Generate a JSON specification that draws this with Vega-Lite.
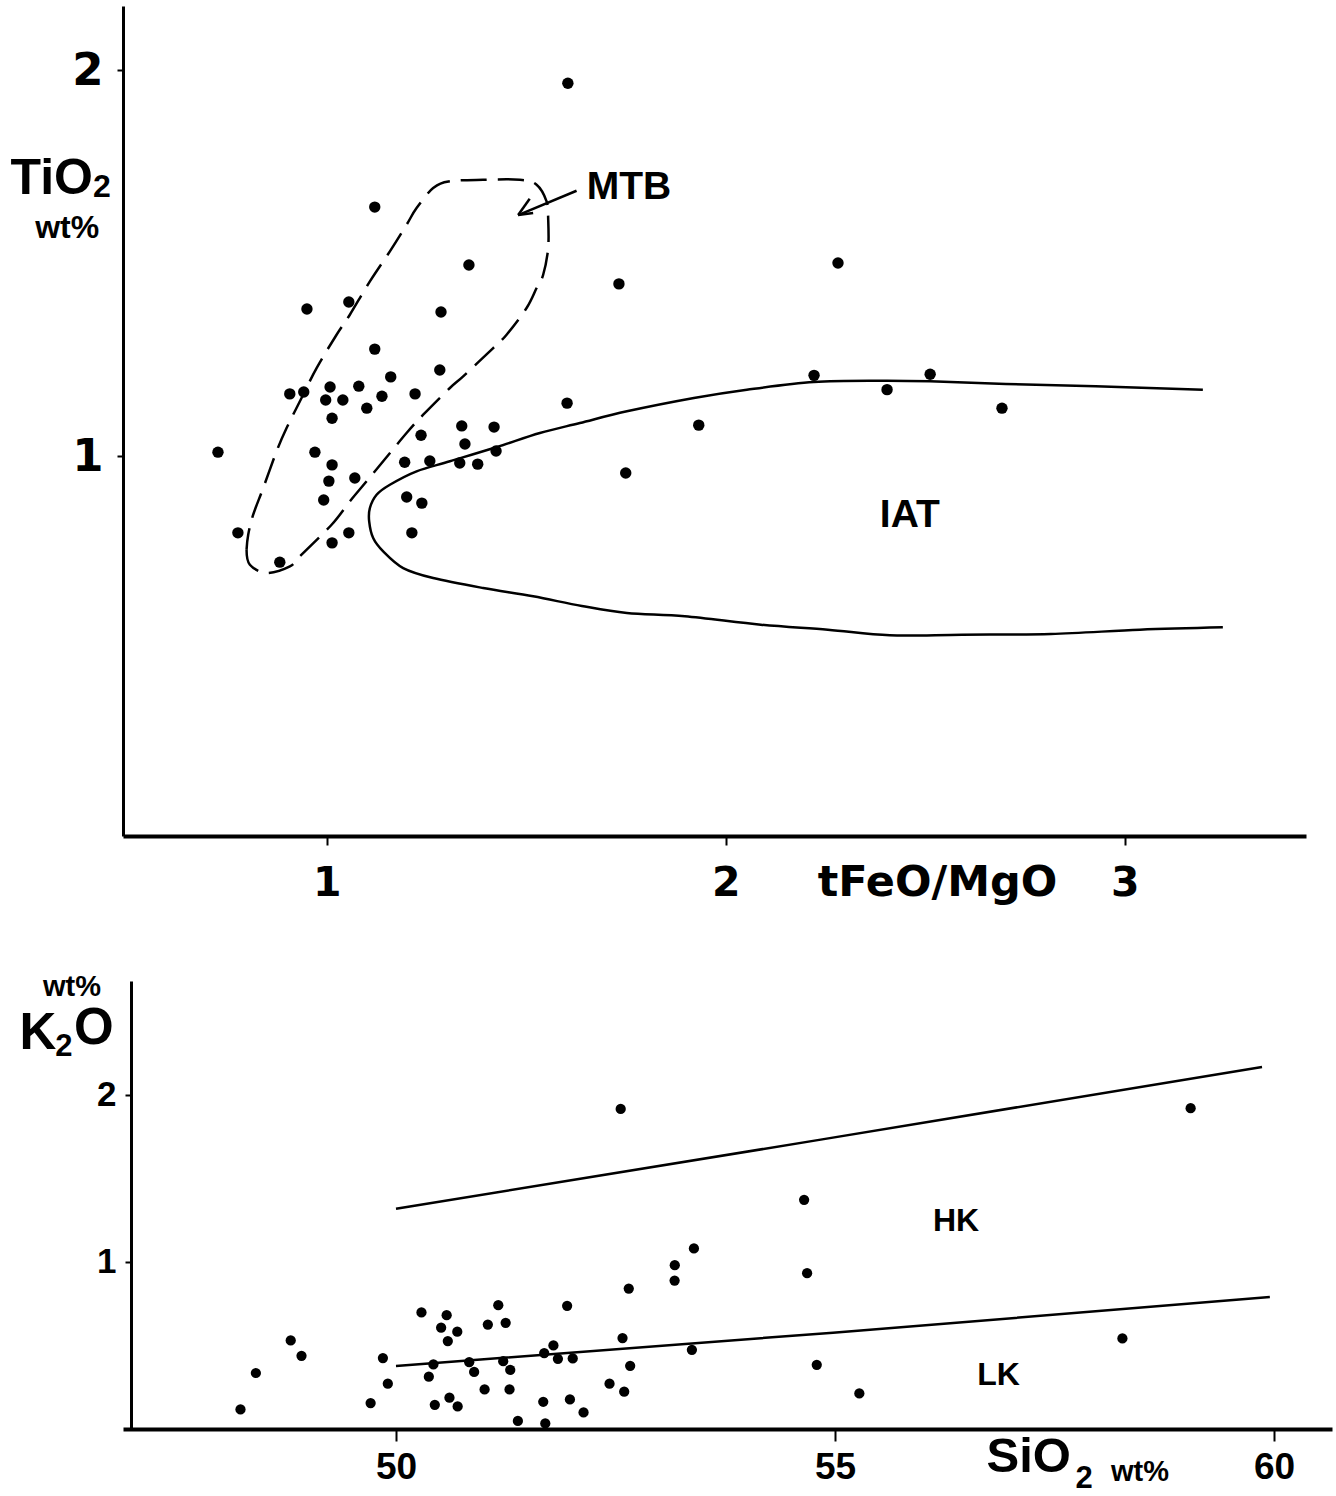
{
  "$schema": "https://vega.github.io/schema/vega-lite/v6.json",
  "background": "white",
  "padding": {"left": 10, "top": 6, "right": 5, "bottom": 5},
  "config": {"view": {"stroke": null}},
  "datasets": {
    "top_points": [
      {"x":1.120,"y":1.645},{"x":1.356,"y":1.495},{"x":0.950,"y":1.381},{"x":1.055,"y":1.399},{"x":1.286,"y":1.373},
      {"x":1.120,"y":1.277},{"x":1.160,"y":1.205},{"x":1.283,"y":1.223},{"x":0.907,"y":1.161},{"x":0.942,"y":1.166},
      {"x":1.008,"y":1.179},{"x":1.080,"y":1.181},{"x":0.997,"y":1.145},{"x":1.040,"y":1.145},{"x":1.138,"y":1.155},
      {"x":1.100,"y":1.124},{"x":1.221,"y":1.161},{"x":1.013,"y":1.098},{"x":1.602,"y":1.137},{"x":1.338,"y":1.078},
      {"x":1.419,"y":1.075},{"x":1.346,"y":1.031},{"x":1.424,"y":1.013},{"x":1.236,"y":1.054},{"x":0.727,"y":1.010},
      {"x":0.970,"y":1.010},{"x":1.013,"y":0.977},{"x":1.195,"y":0.984},{"x":1.258,"y":0.987},{"x":1.333,"y":0.982},
      {"x":1.378,"y":0.979},{"x":1.005,"y":0.935},{"x":1.070,"y":0.943},{"x":0.992,"y":0.886},{"x":1.200,"y":0.894},
      {"x":1.238,"y":0.878},{"x":0.777,"y":0.801},{"x":1.055,"y":0.801},{"x":1.013,"y":0.775},{"x":1.213,"y":0.801},
      {"x":0.882,"y":0.725},{"x":1.932,"y":1.080},{"x":1.749,"y":0.956},{"x":2.221,"y":1.209},{"x":1.604,"y":1.966},
      {"x":1.732,"y":1.446},{"x":2.281,"y":1.500},{"x":2.404,"y":1.172},{"x":2.512,"y":1.212},{"x":2.692,"y":1.124}
    ],
    "mtb": [
      {"i":0,"x":0.7987,"y":0.7573},{"i":1,"x":0.8070,"y":0.7184},{"i":2,"x":0.8489,"y":0.6969},{"i":3,"x":0.9073,"y":0.7142},
      {"i":4,"x":0.9323,"y":0.7401},{"i":5,"x":1.0118,"y":0.8220},{"i":6,"x":1.0576,"y":0.8826},{"i":7,"x":1.0995,"y":0.9345},
      {"i":8,"x":1.1411,"y":0.9863},{"i":9,"x":1.1997,"y":1.0596},{"i":10,"x":1.2414,"y":1.1070},{"i":11,"x":1.3083,"y":1.1762},
      {"i":12,"x":1.3416,"y":1.2065},{"i":13,"x":1.4168,"y":1.2798},{"i":14,"x":1.4504,"y":1.3143},{"i":15,"x":1.5005,"y":1.3834},
      {"i":16,"x":1.5256,"y":1.4352},{"i":17,"x":1.5421,"y":1.4697},{"i":18,"x":1.5546,"y":1.5389},{"i":19,"x":1.5546,"y":1.6166},
      {"i":20,"x":1.5506,"y":1.6598},{"i":21,"x":1.5256,"y":1.7029},{"i":22,"x":1.4837,"y":1.7158},{"i":23,"x":1.3917,"y":1.7158},
      {"i":24,"x":1.3083,"y":1.7117},{"i":25,"x":1.2664,"y":1.6943},{"i":26,"x":1.2248,"y":1.6425},{"i":27,"x":1.1997,"y":1.5992},
      {"i":28,"x":1.1579,"y":1.5303},{"i":29,"x":1.1078,"y":1.4526},{"i":30,"x":1.0576,"y":1.3661},{"i":31,"x":1.0243,"y":1.3143},
      {"i":32,"x":0.9742,"y":1.2280},{"i":33,"x":0.9406,"y":1.1588},{"i":34,"x":0.8990,"y":1.0725},{"i":35,"x":0.8739,"y":1.0122},
      {"i":36,"x":0.8404,"y":0.9171},{"i":37,"x":0.8153,"y":0.8479},{"i":38,"x":0.8028,"y":0.7961},{"i":39,"x":0.7987,"y":0.7573}
    ],
    "iat": [
      {"i":0,"x":3.1955,"y":1.1718},{"i":1,"x":2.9266,"y":1.1806},{"i":2,"x":2.7018,"y":1.1865},{"i":3,"x":2.5113,"y":1.1935},
      {"i":4,"x":2.3885,"y":1.1951},{"i":5,"x":2.2206,"y":1.1917},{"i":6,"x":2.0526,"y":1.1718},{"i":7,"x":1.9198,"y":1.1503},
      {"i":8,"x":1.7519,"y":1.1158},{"i":9,"x":1.6341,"y":1.0855},{"i":10,"x":1.5338,"y":1.0596},{"i":11,"x":1.4261,"y":1.0233},
      {"i":12,"x":1.3083,"y":0.9863},{"i":13,"x":1.2248,"y":0.9604},{"i":14,"x":1.1579,"y":0.9256},{"i":15,"x":1.1246,"y":0.8997},
      {"i":16,"x":1.1078,"y":0.8653},{"i":17,"x":1.1060,"y":0.8308},{"i":18,"x":1.1160,"y":0.7876},{"i":19,"x":1.1411,"y":0.7531},
      {"i":20,"x":1.1912,"y":0.7098},{"i":21,"x":1.2664,"y":0.6839},{"i":22,"x":1.3917,"y":0.6580},{"i":23,"x":1.5170,"y":0.6365},
      {"i":24,"x":1.6391,"y":0.6114},{"i":25,"x":1.7519,"y":0.5933},{"i":26,"x":1.8972,"y":0.5847},{"i":27,"x":2.0877,"y":0.5630},
      {"i":28,"x":2.2556,"y":0.5500},{"i":29,"x":2.4110,"y":0.5355},{"i":30,"x":2.5915,"y":0.5371},{"i":31,"x":2.8145,"y":0.5389},
      {"i":32,"x":3.0376,"y":0.5500},{"i":33,"x":3.2456,"y":0.5562}
    ],
    "arrow": [
      {"seg":"shaft","i":0,"x":1.6258,"y":1.6873},{"seg":"shaft","i":1,"x":1.4794,"y":1.6244},
      {"seg":"head1","i":0,"x":1.4794,"y":1.6244},{"seg":"head1","i":1,"x":1.5083,"y":1.6666},
      {"seg":"head2","i":0,"x":1.4794,"y":1.6244},{"seg":"head2","i":1,"x":1.5170,"y":1.6295}
    ],
    "top_labels": [
      {"label":"MTB","x":1.757,"y":1.697},
      {"label":"IAT","x":2.461,"y":0.847}
    ],
    "top_unit": [{"label":"wt%","x":0.349,"y":1.591}],
    "top_sub": [{"label":"2","x":0.436,"y":1.697}],
    "bottom_points": [
      {"x":48.229,"y":0.117},{"x":48.404,"y":0.335},{"x":48.801,"y":0.530},{"x":48.924,"y":0.438},{"x":49.711,"y":0.155},
      {"x":49.851,"y":0.424},{"x":49.907,"y":0.271},{"x":50.290,"y":0.697},{"x":50.577,"y":0.681},{"x":50.514,"y":0.606},
      {"x":50.698,"y":0.582},{"x":50.590,"y":0.526},{"x":50.426,"y":0.386},{"x":50.374,"y":0.313},{"x":50.834,"y":0.400},
      {"x":50.890,"y":0.341},{"x":50.442,"y":0.145},{"x":50.609,"y":0.187},{"x":50.702,"y":0.135},{"x":51.009,"y":0.237},
      {"x":51.046,"y":0.625},{"x":51.165,"y":0.741},{"x":51.249,"y":0.635},{"x":51.221,"y":0.406},{"x":51.301,"y":0.353},
      {"x":51.293,"y":0.237},{"x":51.388,"y":0.048},{"x":51.677,"y":0.163},{"x":51.700,"y":0.033},{"x":51.688,"y":0.454},
      {"x":51.793,"y":0.500},{"x":51.844,"y":0.420},{"x":52.013,"y":0.422},{"x":51.949,"y":0.737},{"x":51.981,"y":0.177},
      {"x":52.136,"y":0.099},{"x":52.432,"y":0.271},{"x":52.599,"y":0.223},{"x":52.580,"y":0.544},{"x":52.667,"y":0.378},
      {"x":52.651,"y":0.840},{"x":53.173,"y":0.888},{"x":53.370,"y":0.474},{"x":52.559,"y":1.915},{"x":59.050,"y":1.919},
      {"x":54.648,"y":1.371},{"x":53.393,"y":1.080},{"x":53.175,"y":0.980},{"x":54.682,"y":0.932},{"x":54.792,"y":0.384},
      {"x":58.273,"y":0.542},{"x":55.277,"y":0.213}
    ],
    "bottom_lines": [
      {"line":"upper","i":0,"x":50.0,"y":1.317},{"line":"upper","i":1,"x":54.837,"y":1.731},{"line":"upper","i":2,"x":59.863,"y":2.166},
      {"line":"lower","i":0,"x":50.0,"y":0.377},{"line":"lower","i":1,"x":54.977,"y":0.576},{"line":"lower","i":2,"x":59.952,"y":0.789}
    ],
    "bottom_labels": [
      {"label":"HK","x":56.378,"y":1.243},
      {"label":"LK","x":56.863,"y":0.326}
    ],
    "bottom_units": [
      {"label":"wt%","x":46.310,"y":2.644},
      {"label":"wt%","x":58.474,"y":-0.255}
    ],
    "bottom_sub": [
      {"label":"2","x":46.219,"y":2.288},
      {"label":"2","x":57.836,"y":-0.300}
    ],
    "bottom_o": [{"label":"O","x":46.560,"y":2.390}]
  },
  "vconcat": [
    {
      "width": 1183,
      "height": 830,
      "encoding": {
        "x": {
          "field": "x", "type": "quantitative",
          "scale": {"domain": [0.489, 3.454], "nice": false, "zero": false},
          "axis": {
            "values": [1, 2, 3], "format": "d", "grid": false,
            "domainColor": "black", "domainWidth": 4, "tickColor": "black", "tickWidth": 2, "tickSize": 9,
            "labelFont": "DejaVu Sans", "labelFontWeight": "bold", "labelFontSize": 41, "labelColor": "black", "labelPadding": 18,
            "title": "tFeO/MgO", "titleFont": "DejaVu Sans", "titleFontWeight": "bold", "titleFontSize": 43, "titleColor": "black",
            "titleX": 814, "titleY": 59, "titleAlign": "center", "titleBaseline": "alphabetic", "titleAngle": 0
          }
        },
        "y": {
          "field": "y", "type": "quantitative",
          "scale": {"domain": [0.0155, 2.166], "nice": false, "zero": false},
          "axis": {
            "values": [1, 2], "format": "d", "grid": false,
            "domainColor": "black", "domainWidth": 3, "tickColor": "black", "tickWidth": 2, "tickSize": 6,
            "labelFont": "DejaVu Sans", "labelFontWeight": "bold", "labelFontSize": 45, "labelColor": "black", "labelPadding": 14,
            "title": "TiO", "titleFont": "Liberation Sans", "titleFontWeight": "bold", "titleFontSize": 50, "titleColor": "black",
            "titleX": -113, "titleY": 187, "titleAlign": "left", "titleBaseline": "alphabetic", "titleAngle": 0
          }
        }
      },
      "layer": [
        {
          "data": {"name": "iat"},
          "mark": {"type": "line", "color": "black", "strokeWidth": 2.5, "interpolate": "cardinal"},
          "encoding": {"order": {"field": "i", "type": "quantitative"}}
        },
        {
          "data": {"name": "mtb"},
          "mark": {"type": "line", "color": "black", "strokeWidth": 2.5, "strokeDash": [26, 11], "interpolate": "cardinal"},
          "encoding": {"order": {"field": "i", "type": "quantitative"}}
        },
        {
          "data": {"name": "arrow"},
          "mark": {"type": "line", "color": "black", "strokeWidth": 2.5},
          "encoding": {"detail": {"field": "seg"}, "order": {"field": "i", "type": "quantitative"}}
        },
        {
          "data": {"name": "top_points"},
          "mark": {"type": "circle", "color": "black", "opacity": 1, "size": 130}
        },
        {
          "data": {"name": "top_labels"},
          "mark": {"type": "text", "font": "Liberation Sans", "fontWeight": "bold", "fontSize": 39, "color": "black", "align": "center", "baseline": "middle"},
          "encoding": {"text": {"field": "label"}}
        },
        {
          "data": {"name": "top_unit"},
          "mark": {"type": "text", "font": "Liberation Sans", "fontWeight": "bold", "fontSize": 32, "color": "black", "align": "center", "baseline": "middle"},
          "encoding": {"text": {"field": "label"}}
        },
        {
          "data": {"name": "top_sub"},
          "mark": {"type": "text", "font": "Liberation Sans", "fontWeight": "bold", "fontSize": 32, "color": "black", "align": "center", "baseline": "middle"},
          "encoding": {"text": {"field": "label"}}
        }
      ]
    },
    {
      "width": 1209,
      "height": 448,
      "encoding": {
        "x": {
          "field": "x", "type": "quantitative",
          "scale": {"domain": [46.891, 60.66], "nice": false, "zero": false},
          "axis": {
            "values": [50, 55, 60], "format": "d", "grid": false,
            "domainColor": "black", "domainWidth": 4, "tickColor": "black", "tickWidth": 2, "tickSize": 12,
            "labelFont": "Liberation Sans", "labelFontWeight": "bold", "labelFontSize": 37, "labelColor": "black", "labelPadding": 8,
            "title": "SiO", "titleFont": "Liberation Sans", "titleFontWeight": "bold", "titleFontSize": 49, "titleColor": "black",
            "titleX": 863, "titleY": 42, "titleAlign": "left", "titleBaseline": "alphabetic", "titleAngle": 0
          }
        },
        "y": {
          "field": "y", "type": "quantitative",
          "scale": {"domain": [0, 2.68], "nice": false, "zero": false},
          "axis": {
            "values": [1, 2], "format": "d", "grid": false, "offset": -8,
            "domainColor": "black", "domainWidth": 3, "tickColor": "black", "tickWidth": 2, "tickSize": 6,
            "labelFont": "Liberation Sans", "labelFontWeight": "bold", "labelFontSize": 35, "labelColor": "black", "labelPadding": 9,
            "title": "K", "titleFont": "Liberation Sans", "titleFontWeight": "bold", "titleFontSize": 51, "titleColor": "black",
            "titleX": -112, "titleY": 67, "titleAlign": "left", "titleBaseline": "alphabetic", "titleAngle": 0
          }
        }
      },
      "layer": [
        {
          "data": {"name": "bottom_lines"},
          "mark": {"type": "line", "color": "black", "strokeWidth": 2.5},
          "encoding": {"detail": {"field": "line"}, "order": {"field": "i", "type": "quantitative"}}
        },
        {
          "data": {"name": "bottom_points"},
          "mark": {"type": "circle", "color": "black", "opacity": 1, "size": 105}
        },
        {
          "data": {"name": "bottom_labels"},
          "mark": {"type": "text", "font": "Liberation Sans", "fontWeight": "bold", "fontSize": 32, "color": "black", "align": "center", "baseline": "middle"},
          "encoding": {"text": {"field": "label"}}
        },
        {
          "data": {"name": "bottom_units"},
          "mark": {"type": "text", "font": "Liberation Sans", "fontWeight": "bold", "fontSize": 29, "color": "black", "align": "center", "baseline": "middle"},
          "encoding": {"text": {"field": "label"}}
        },
        {
          "data": {"name": "bottom_sub"},
          "mark": {"type": "text", "font": "Liberation Sans", "fontWeight": "bold", "fontSize": 31, "color": "black", "align": "center", "baseline": "middle"},
          "encoding": {"text": {"field": "label"}}
        },
        {
          "data": {"name": "bottom_o"},
          "mark": {"type": "text", "font": "Liberation Sans", "fontWeight": "bold", "fontSize": 51, "color": "black", "align": "center", "baseline": "middle"},
          "encoding": {"text": {"field": "label"}}
        }
      ]
    }
  ],
  "spacing": 145,
  "bounds": "flush"
}
